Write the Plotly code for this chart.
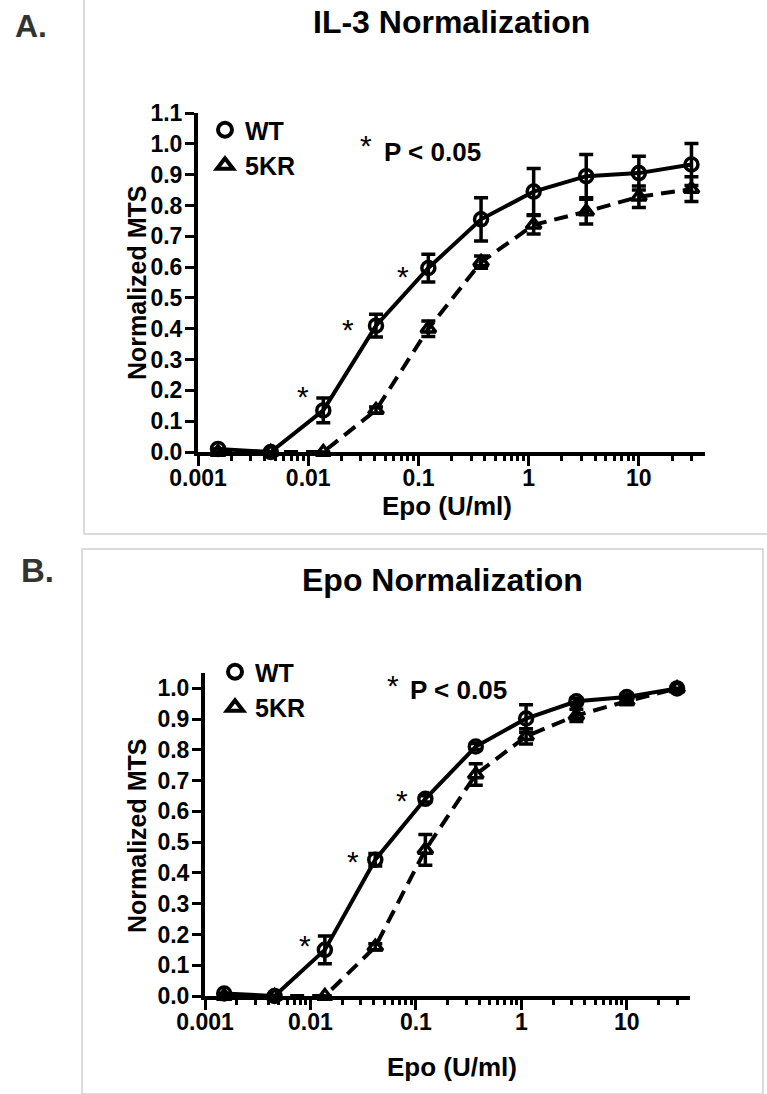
import math
import plotly.graph_objects as go

# Epo doses (3-fold serial dilution, U/ml)
doses = [0.00152, 0.00457, 0.0137, 0.0412, 0.123, 0.370, 1.11, 3.33, 10.0, 30.0]
tick_vals = [0.001, 0.01, 0.1, 1, 10]
tick_text = ["0.001", "0.01", "0.1", "1", "10"]

# Panel A: IL-3 normalization
a_wt_mean = [0.01, 0.0, 0.135, 0.41, 0.597, 0.755, 0.845, 0.895, 0.905, 0.933]
a_wt_err = [0.0, 0.0, 0.04, 0.037, 0.045, 0.07, 0.075, 0.07, 0.055, 0.068]
a_kr_mean = [0.0, 0.0, 0.0, 0.136, 0.40, 0.616, 0.737, 0.78, 0.828, 0.853]
a_kr_err = [0.0, 0.0, 0.0, 0.01, 0.025, 0.02, 0.03, 0.04, 0.035, 0.04]

# Panel B: Epo normalization
b_wt_mean = [0.008, 0.0, 0.15, 0.443, 0.641, 0.811, 0.902, 0.958, 0.972, 1.0]
b_wt_err = [0.0, 0.0, 0.045, 0.02, 0.01, 0.01, 0.045, 0.01, 0.01, 0.0]
b_kr_mean = [0.0, 0.0, 0.0, 0.16, 0.475, 0.72, 0.844, 0.912, 0.958, 1.0]
b_kr_err = [0.0, 0.0, 0.0, 0.01, 0.05, 0.035, 0.025, 0.02, 0.01, 0.0]

# points where WT differs from 5KR (P < 0.05)
sig_idx = [2, 3, 4]

W, H = 767, 1094
FONT = "Liberation Sans, Arial, Helvetica, sans-serif"


def px(x):
    return x / W


def py(y):
    return 1 - y / H


fig = go.Figure()


def add_series(xa, ya, mean, err, symbol, dash, legend, name):
    fig.add_trace(go.Scatter(
        x=doses, y=mean, xaxis=xa, yaxis=ya, mode="lines+markers",
        line=dict(color="black", width=4, dash=dash),
        marker=dict(symbol=symbol, size=13, color="black",
                    line=dict(color="black", width=3.5)),
        error_y=dict(type="data", array=err, visible=True,
                     color="black", thickness=3.5, width=7),
        cliponaxis=False, showlegend=False, name=name,
    ))
    # legend entry shows the marker only
    fig.add_trace(go.Scatter(
        x=[None], y=[None], xaxis=xa, yaxis=ya, mode="markers",
        marker=dict(symbol=symbol, size=14, color="black",
                    line=dict(color="black", width=4)),
        name=name, legend=legend, showlegend=True,
    ))


add_series("x", "y", a_wt_mean, a_wt_err, "circle-open", "solid", "legend", "WT")
add_series("x", "y", a_kr_mean, a_kr_err, "triangle-up-open", "14px,8px", "legend", "5KR")
add_series("x2", "y2", b_wt_mean, b_wt_err, "circle-open", "solid", "legend2", "WT")
add_series("x2", "y2", b_kr_mean, b_kr_err, "triangle-up-open", "14px,8px", "legend2", "5KR")

tickfont = dict(family=FONT, size=23, color="black", weight="bold")
minor_vals = [m * 10.0 ** e for e in range(-3, 2) for m in range(2, 10)]

xaxis_common = dict(
    type="log", range=[-3, 1.6], tickmode="array", tickvals=tick_vals,
    ticktext=tick_text, showline=True, linewidth=4, linecolor="black",
    ticks="outside", ticklen=10, tickwidth=3, tickcolor="black",
    showgrid=False, zeroline=False, tickfont=tickfont, automargin=False,
    ticklabelstandoff=-8,
    minor=dict(tickvals=minor_vals, ticks="outside", ticklen=5,
               tickwidth=3, tickcolor="black", showgrid=False),
)
yaxis_common = dict(
    showline=True, linewidth=4, linecolor="black", ticks="outside",
    ticklen=9, tickwidth=3, tickcolor="black", showgrid=False,
    zeroline=False, tickfont=tickfont, dtick=0.1, tickformat=".1f",
    automargin=False, ticklabelstandoff=-2,
)

legend_common = dict(
    xanchor="left", yanchor="top", bgcolor="rgba(0,0,0,0)",
    font=dict(family=FONT, size=25, color="black", weight="bold"),
    itemwidth=30, tracegroupgap=0,
)

fig.update_layout(
    template="none",
    width=W, height=H, margin=dict(l=0, r=0, t=0, b=0, pad=0),
    autosize=False,
    paper_bgcolor="white", plot_bgcolor="white",
    xaxis=dict(xaxis_common, domain=[px(198), px(705)], anchor="y"),
    yaxis=dict(yaxis_common, domain=[py(452), py(113)], range=[0, 1.1], anchor="x"),
    xaxis2=dict(xaxis_common, domain=[px(205), px(690)], anchor="y2"),
    yaxis2=dict(yaxis_common, domain=[py(996), py(673)], range=[0, 1.05], anchor="x2"),
    legend=dict(legend_common, x=px(205), y=py(107)),
    legend2=dict(legend_common, x=px(215), y=py(649)),
)

# panel frames
frame = dict(color="#cfcfcf", width=1.5)
fig.add_shape(type="line", xref="paper", yref="paper", x0=px(84), x1=px(84),
              y0=py(534), y1=1.0, line=frame)
fig.add_shape(type="line", xref="paper", yref="paper", x0=px(84), x1=1.0,
              y0=py(534), y1=py(534), line=frame)
fig.add_shape(type="rect", xref="paper", yref="paper", x0=px(82), x1=px(763),
              y0=0.0, y1=py(549), line=frame)


def text(x, y, s, size, color="black", angle=0, weight="bold", xanchor="center"):
    fig.add_annotation(x=px(x), y=py(y), xref="paper", yref="paper", text=s,
                       showarrow=False, textangle=angle, xanchor=xanchor,
                       yanchor="middle",
                       font=dict(family=FONT, size=size, color=color, weight=weight))


# panel letters and titles
text(31, 26, "A.", 32, color="#333333")
text(37, 570, "B.", 33, color="#333333")
text(452, 22, "IL-3 Normalization", 32)
text(442, 580, "Epo Normalization", 32)

# axis titles
text(137, 283, "Normalized MTS", 25, angle=-90)
text(137, 836, "Normalized MTS", 25, angle=-90)
text(447, 506, "Epo (U/ml)", 26)
text(452, 1067, "Epo (U/ml)", 26)

# significance note
text(366, 145, "*", 30, weight="normal")
text(382, 152, "P < 0.05", 26, xanchor="left")
text(393, 685, "*", 30, weight="normal")
text(408, 690, "P < 0.05", 26, xanchor="left")

# asterisks next to significant WT points (log axes take x in log units)
for (xa, ya, mean, shifts) in [
    ("x", "y", a_wt_mean, [(-20, 14), (-28, -4), (-25, -8)]),
    ("x2", "y2", b_wt_mean, [(-20, 4), (-22, -2), (-23, -2)]),
]:
    for i, (dx, dy) in zip(sig_idx, shifts):
        fig.add_annotation(x=math.log10(doses[i]), y=mean[i], xref=xa, yref=ya,
                           text="*", showarrow=False, xshift=dx, yshift=dy,
                           font=dict(family=FONT, size=30, color="black"))

fig.write_html("out.html")
